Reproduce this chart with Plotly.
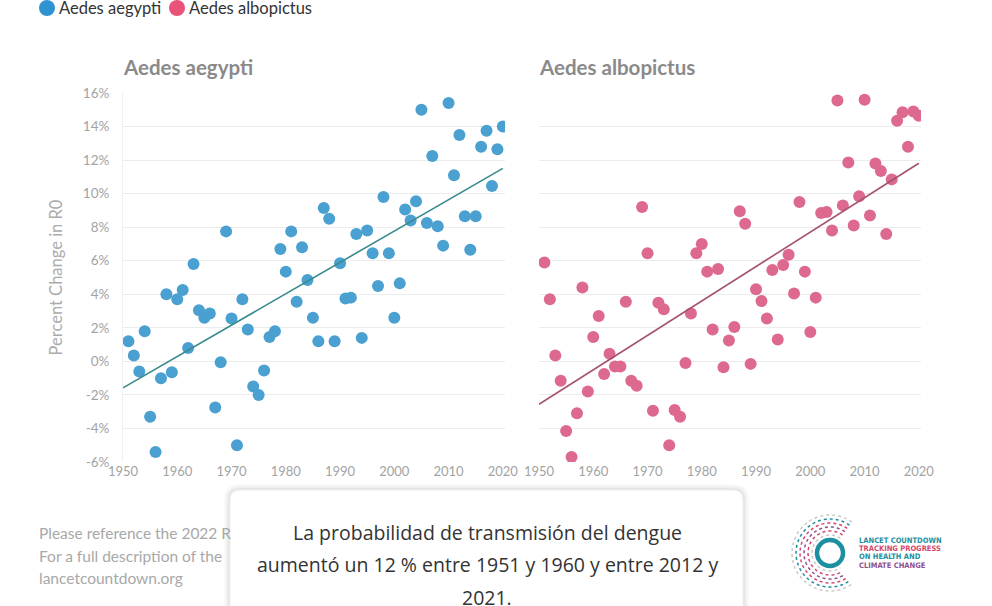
import numpy as np
import plotly.graph_objects as go
from plotly.subplots import make_subplots

W, H = 992, 606

# ── Data ───────────────────────────────────────────────────────
years = list(range(1951, 2021))

aegypti = [
    1.2, 0.35, -0.6, 1.8, -3.3, -5.4, -1.0, 4.0, -0.65, 3.7,
    4.25, 0.8, 5.8, 3.05, 2.6, 2.85, -2.75, -0.05, 7.75, 2.55,
    -5.0, 3.7, 1.9, -1.5, -2.0, -0.55, 1.45, 1.8, 6.7, 5.35,
    7.75, 3.55, 6.8, 4.85, 2.6, 1.2, 9.15, 8.5, 1.2, 5.85,
    3.75, 3.8, 7.6, 1.4, 7.8, 6.45, 4.5, 9.8, 6.45, 2.6,
    4.65, 9.05, 8.4, 9.55, 15.0, 8.25, 12.25, 8.05, 6.9, 15.4,
    11.1, 13.5, 8.65, 6.65, 8.65, 12.8, 13.75, 10.45, 12.65, 14.0,
]

albopictus = [
    5.9, 3.7, 0.35, -1.15, -4.15, -5.7, -3.1, 4.4, -1.8, 1.45,
    2.7, -0.75, 0.45, -0.3, -0.3, 3.55, -1.15, -1.45, 9.2, 6.45,
    -2.95, 3.5, 3.1, -5.0, -2.9, -3.3, -0.1, 2.85, 6.45, 7.0,
    5.35, 1.9, 5.5, -0.35, 1.25, 2.05, 8.95, 8.2, -0.15, 4.3,
    3.6, 2.55, 5.45, 1.3, 5.75, 6.35, 4.05, 9.5, 5.35, 1.75,
    3.8, 8.85, 8.9, 7.8, 15.55, 9.3, 11.85, 8.1, 9.85, 15.6,
    8.7, 11.8, 11.35, 7.6, 10.85, 14.35, 14.85, 12.8, 14.9, 14.65,
]

series_names = ["Aedes aegypti", "Aedes albopictus"]
trend_years = [1950, 2020]
y_ticks = [-6, -4, -2, 0, 2, 4, 6, 8, 10, 12, 14, 16]
x_ticks = [1950, 1960, 1970, 1980, 1990, 2000, 2010, 2020]

footer_lines = ["Please reference the 2022 R", "For a full description of the", "lancetcountdown.org"]
caption_lines = [
    "La probabilidad de transmisión del dengue",
    "aumentó un 12 % entre 1951 y 1960 y entre 2012 y",
    "2021.",
]

BLUE, PINK = "#4aa0d0", "#dd6a8e"
BLUE_LEG, PINK_LEG = "#2f93d1", "#e8537a"
FONT = "Lato, 'Open Sans', sans-serif"


def px_x(v):
    return v / W


def px_y(v):
    return 1 - v / H


def trend(xs, ys):
    slope, icpt = np.polyfit(xs, ys, 1)
    return [slope * t + icpt for t in trend_years]


# ── Figure ─────────────────────────────────────────────────────
fig = make_subplots(rows=1, cols=2, shared_yaxes=True)

fig.add_trace(go.Scatter(
    x=years, y=aegypti, mode="markers", name=series_names[0],
    marker=dict(size=12, color=BLUE)
), row=1, col=1)
fig.add_trace(go.Scatter(
    x=trend_years, y=trend(years, aegypti), mode="lines",
    line=dict(color="#3a8a8c", width=1.6), hoverinfo="skip"
), row=1, col=1)

fig.add_trace(go.Scatter(
    x=years, y=albopictus, mode="markers", name=series_names[1],
    marker=dict(size=12, color=PINK)
), row=1, col=2)
fig.add_trace(go.Scatter(
    x=trend_years, y=trend(years, albopictus), mode="lines",
    line=dict(color="#a45270", width=1.6), hoverinfo="skip"
), row=1, col=2)

ydom = [px_y(462), px_y(93)]
axis_style = dict(
    tickfont=dict(family=FONT, size=13, color="#a3a3a3"),
    zeroline=False, ticks="", automargin=False,
)
fig.update_xaxes(range=[1950, 2020.4], tickvals=x_ticks, showgrid=False, **axis_style)
fig.update_xaxes(domain=[px_x(123), px_x(505)], row=1, col=1)
fig.update_xaxes(domain=[px_x(539), px_x(921)], row=1, col=2)
fig.update_yaxes(range=[-6, 16], tickvals=y_ticks, ticktext=[f"{v}%" for v in y_ticks],
                 domain=ydom, showgrid=True, gridcolor="#ececec", gridwidth=1, **axis_style)
fig.update_yaxes(showline=True, linecolor="#f0f0f0", ticklabelstandoff=10,
                 tickfont=dict(family=FONT, size=13.5, color="#a3a3a3"),
                 title=dict(text="Percent Change in R0", standoff=16,
                            font=dict(family=FONT, size=16.5, color="#ababab")),
                 row=1, col=1)

annotations = []
shapes = []

# ── Legend (drawn by hand so it does not push the margins) ─────
for (name, color, cx_leg) in zip(series_names, [BLUE_LEG, PINK_LEG], [47, 177]):
    shapes.append(dict(type="circle", xref="paper", yref="paper", layer="above",
                       x0=px_x(cx_leg - 8), x1=px_x(cx_leg + 8), y0=px_y(16), y1=px_y(0),
                       fillcolor=color, line=dict(width=0)))
    annotations.append(dict(text=name, x=px_x(cx_leg + 10), y=px_y(8), xanchor="left",
                            yanchor="middle", font=dict(family=FONT, size=16.5, color="#333333")))

# ── Subplot titles and footer text ─────────────────────────────
for name, x0 in zip(series_names, [121, 537]):
    annotations.append(dict(text=f"<b>{name}</b>", x=px_x(x0), y=px_y(67), xanchor="left",
                            yanchor="middle", font=dict(family=FONT, size=20.5, color="#8a8a8a")))
for i, line in enumerate(footer_lines):
    annotations.append(dict(text=line, x=px_x(37), y=px_y(533 + 22.5 * i), xanchor="left",
                            yanchor="middle", font=dict(family=FONT, size=15.5, color="#a8a8a8")))


# ── Caption card (rounded box with a soft shadow) ──────────────
def rounded_rect(x0, y0, x1, y1, r):
    X0, X1 = px_x(x0), px_x(x1)
    Y0, Y1 = px_y(y0), px_y(y1)
    rx, ry = r / W, r / H
    return (f"M {X0+rx},{Y0} L {X1-rx},{Y0} Q {X1},{Y0} {X1},{Y0-ry} "
            f"L {X1},{Y1+ry} Q {X1},{Y1} {X1-rx},{Y1} L {X0+rx},{Y1} "
            f"Q {X0},{Y1} {X0},{Y1+ry} L {X0},{Y0-ry} Q {X0},{Y0} {X0+rx},{Y0} Z")


for k, alpha in [(6, 0.025), (4, 0.035), (2, 0.045)]:
    shapes.append(dict(type="path", xref="paper", yref="paper", layer="above",
                       path=rounded_rect(230 - k, 490 - k, 743 + k, 640, 10 + k),
                       fillcolor=f"rgba(0,0,0,{alpha})", line=dict(width=0)))
shapes.append(dict(type="path", xref="paper", yref="paper", layer="above",
                   path=rounded_rect(230, 490, 743, 640, 10),
                   fillcolor="white", line=dict(color="#eeeeee", width=1)))

for i, line in enumerate(caption_lines):
    annotations.append(dict(text=line, x=px_x(487), y=px_y(532 + 32.5 * i), xanchor="center",
                            yanchor="middle", font=dict(family="'Open Sans', sans-serif",
                                                        size=19.5, color="#333333")))

# ── Lancet Countdown logo ──────────────────────────────────────
cx, cy = 830, 553
shapes.append(dict(type="circle", xref="paper", yref="paper", layer="above",
                   x0=px_x(cx - 13), x1=px_x(cx + 13), y0=px_y(cy + 13), y1=px_y(cy - 13),
                   line=dict(color="#1c8fa0", width=4.5)))
ring_colors = ["#c9c9c9", "#d3456e", "#8e4f8e", "#d3456e", "#1c8fa0", "#c9c9c9"]
for j, rad in enumerate([18, 22, 26, 30, 34, 38]):
    ang = np.linspace(np.radians(55), np.radians(305), 60)
    pts = [f"{px_x(cx + rad * np.cos(a))},{px_y(cy - rad * np.sin(a))}" for a in ang]
    shapes.append(dict(type="path", xref="paper", yref="paper", layer="above",
                       path="M " + " L ".join(pts),
                       line=dict(color=ring_colors[j], width=1.5, dash="dot")))

logo_lines = [("LANCET COUNTDOWN", "#1c8fa0"), ("TRACKING PROGRESS", "#d3456e"),
              ("ON HEALTH AND", "#1c8fa0"), ("CLIMATE CHANGE", "#8e4f8e")]
for i, (txt, col) in enumerate(logo_lines):
    annotations.append(dict(text=f"<b>{txt}</b>", x=px_x(857), y=px_y(540 + 8.4 * i), xanchor="left",
                            yanchor="middle",
                            font=dict(family="'Liberation Sans Narrow', 'DejaVu Sans Condensed', sans-serif",
                                      size=7.5, color=col)))

for a in annotations:
    a.setdefault("xref", "paper")
    a.setdefault("yref", "paper")
    a.setdefault("showarrow", False)

fig.update_layout(
    width=W, height=H,
    margin=dict(l=0, r=0, t=0, b=0, autoexpand=False),
    paper_bgcolor="white", plot_bgcolor="white",
    font=dict(family=FONT),
    showlegend=False,
    annotations=annotations,
    shapes=shapes,
)

# page body margin would shift the figure by 8px
fig.write_html("out.html", config={"displayModeBar": False},
               post_script="document.body.style.margin='0';")
